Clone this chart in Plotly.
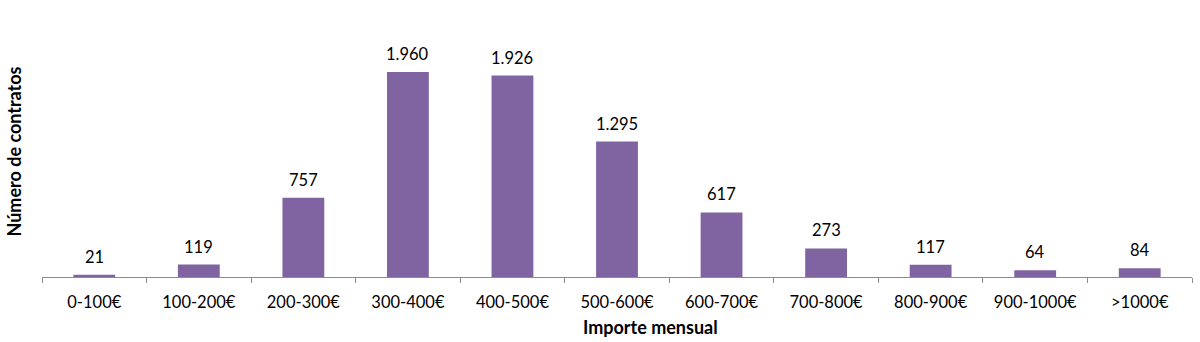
import plotly.graph_objects as go

categories = ["0-100€", "100-200€", "200-300€", "300-400€", "400-500€", "500-600€",
              "600-700€", "700-800€", "800-900€", "900-1000€", ">1000€"]
contratos = [21, 119, 757, 1960, 1926, 1295, 617, 273, 117, 64, 84]
labels = ["21", "119", "757", "1.960", "1.926", "1.295", "617", "273", "117", "64", "84"]

FONT = "Lato, Calibri, sans-serif"

fig = go.Figure(
    go.Bar(
        x=categories,
        y=contratos,
        marker=dict(color="#8064A2", line=dict(width=0)),
        hoverinfo="x+y",
    )
)

# value labels floating a little above each bar
for cat, val, lab in zip(categories, contratos, labels):
    fig.add_annotation(
        x=cat, y=val, text=lab, showarrow=False,
        yanchor="middle", yshift=18,
        font=dict(family=FONT, size=16.5, color="#000000"),
    )

# x-axis title, set slightly right of the axis centre
fig.add_annotation(
    x=0.5287, y=0, xref="paper", yref="paper",
    text="<b>Importe mensual</b>", showarrow=False,
    xanchor="center", yanchor="middle", yshift=-50,
    font=dict(family=FONT, size=18, color="#000000"),
)

fig.update_layout(
    width=1200,
    height=342,
    margin=dict(l=42, r=8, t=26, b=65),
    paper_bgcolor="white",
    plot_bgcolor="white",
    bargap=0.6,
    showlegend=False,
    font=dict(family=FONT, size=16, color="#000000"),
)

fig.update_xaxes(
    type="category",
    showline=True,
    linecolor="#8c8c8c",
    linewidth=1,
    ticks="outside",
    tickson="boundaries",
    ticklen=5,
    tickcolor="#8c8c8c",
    showgrid=False,
    ticklabelstandoff=10,
    tickfont=dict(family=FONT, size=16.5, color="#000000"),
)

fig.update_yaxes(
    range=[0, 2400],
    showticklabels=False,
    showgrid=False,
    zeroline=False,
    showline=False,
    title=dict(text="<b>Número de contratos</b>", font=dict(family=FONT, size=18), standoff=14),
)

fig.write_html("out.html")
